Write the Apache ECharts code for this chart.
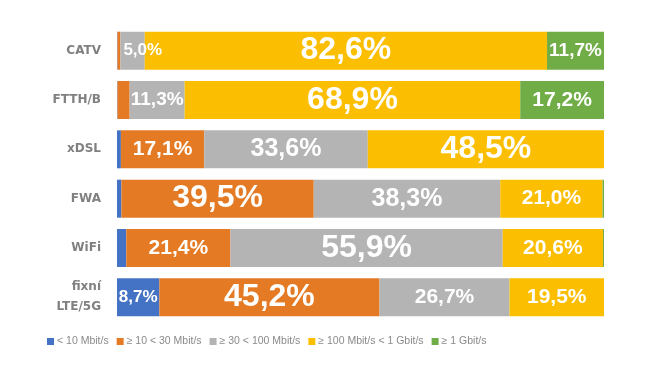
<!DOCTYPE html>
<html>
<head>
<meta charset="utf-8">
<title>Rychlost připojení podle technologie</title>
<script src="https://cdn.jsdelivr.net/npm/echarts@6/dist/echarts.min.js"></script>
<style>
  html, body { margin: 0; padding: 0; background: #fff; }
  #main { width: 670px; height: 377px; }
</style>
</head>
<body>
<div id="main"></div>
<script>
// kategorie (technologie připojení)
var categories = ['CATV', 'FTTH/B', 'xDSL', 'FWA', 'WiFi', 'fixní\nLTE/5G'];

// podíly v % podle rychlosti
var seriesNames = ['< 10 Mbit/s', '≥ 10 < 30 Mbit/s', '≥ 30 < 100 Mbit/s', '≥ 100 Mbit/s < 1 Gbit/s', '≥ 1 Gbit/s'];
var below10   = [0.1, 0.1, 0.8, 0.9, 1.9, 8.7];
var from10    = [0.6, 2.5, 17.1, 39.5, 21.4, 45.2];
var from30    = [5.0, 11.3, 33.6, 38.3, 55.9, 26.7];
var from100   = [82.6, 68.9, 48.5, 21.0, 20.6, 19.5];
var above1G   = [11.7, 17.2, 0, 0.3, 0.2, 0];

var colors = ['#4472C4', '#E47A24', '#B4B4B4', '#FBBE00', '#70AD47'];

// velikost popisku podle velikosti hodnoty
function labelSize(v) {
  if (v >= 39) return 32;
  if (v >= 30) return 25;
  if (v >= 17) return 21;
  if (v >= 10) return 19;
  return 17;
}

var allData = [below10, from10, from30, from100, above1G];

var series = allData.map(function (arr, i) {
  return {
    name: seriesNames[i],
    type: 'bar',
    stack: 'total',
    barCategoryGap: '23%',
    itemStyle: { color: colors[i] },
    data: arr.map(function (v) {
      var lab = { show: v >= 5, fontSize: labelSize(v) };
      if (v < 6) { lab.position = 'insideLeft'; lab.distance = 3; }
      return { value: v, label: lab };
    }),
    label: {
      position: 'inside',
      color: '#fff',
      fontWeight: 'bold',
      fontFamily: 'Liberation Sans, Arial, sans-serif',
      formatter: function (p) {
        return p.value.toFixed(1).replace('.', ',') + '%';
      }
    }
  };
});

var myChart = echarts.init(document.getElementById('main'));
myChart.setOption({
  animation: false,
  color: colors,
  grid: { left: 117, right: 66, top: 26, bottom: 55 },
  xAxis: {
    type: 'value',
    min: 0,
    max: 100,
    show: false
  },
  yAxis: {
    type: 'category',
    data: categories,
    inverse: true,
    axisLine: { show: false },
    axisTick: { show: false },
    axisLabel: {
      margin: 16,
      color: '#808080',
      fontWeight: 'bold',
      fontSize: 12,
      lineHeight: 20,
      fontFamily: 'DejaVu Sans, sans-serif'
    }
  },
  legend: {
    left: 42,
    top: 331,
    itemWidth: 7,
    itemHeight: 7,
    itemGap: 8,
    icon: 'rect',
    textStyle: {
      color: '#8A8A8A',
      fontSize: 10.5,
      fontFamily: 'Liberation Sans, Arial, sans-serif',
      padding: [0, 0, 0, -2]
    },
    data: seriesNames
  },
  series: series
});
</script>
</body>
</html>
